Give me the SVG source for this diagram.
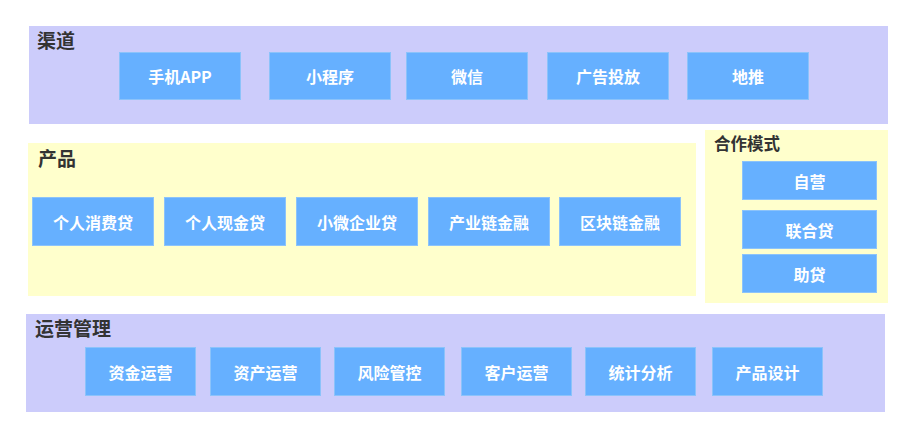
<svg xmlns="http://www.w3.org/2000/svg" width="914" height="438" viewBox="0 0 914 438">
<style>
.lav{fill:#CCCCFB}
.yel{fill:#FFFFCC}
.box{fill:#66B0FF;stroke:#8CC3FA;stroke-width:1}
.title{font-family:"Noto Sans CJK SC","Liberation Sans",sans-serif;font-size:19px;font-weight:bold;fill:#333333}
.lbl{font-family:"Noto Sans CJK SC","Liberation Sans",sans-serif;font-size:16px;font-weight:bold;fill:#FFFFFF;text-anchor:middle;dominant-baseline:central}
</style>
<rect width="914" height="438" fill="#FFFFFF"/>
<g id="channel">
<rect class="lav" x="29" y="26" width="859" height="98"/>
<text class="title" x="37" y="48">渠道</text>
</g>
<g id="n-app"><rect class="box" x="119.5" y="52.5" width="121" height="47"/><text class="lbl" x="180" y="76">手机APP</text></g>
<g id="n-mini"><rect class="box" x="269.5" y="52.5" width="121" height="47"/><text class="lbl" x="330" y="76">小程序</text></g>
<g id="n-wechat"><rect class="box" x="406.5" y="52.5" width="121" height="47"/><text class="lbl" x="467" y="76">微信</text></g>
<g id="n-ad"><rect class="box" x="547.5" y="52.5" width="121" height="47"/><text class="lbl" x="608" y="76">广告投放</text></g>
<g id="n-ground"><rect class="box" x="687.5" y="52.5" width="121" height="47"/><text class="lbl" x="748" y="76">地推</text></g>

<g id="product">
<rect class="yel" x="28" y="143" width="668" height="153"/>
<text class="title" x="38" y="166">产品</text>
</g>
<g id="n-p1"><rect class="box" x="32.5" y="197.5" width="121" height="48"/><text class="lbl" x="93" y="222">个人消费贷</text></g>
<g id="n-p2"><rect class="box" x="164.5" y="197.5" width="121" height="48"/><text class="lbl" x="225" y="222">个人现金贷</text></g>
<g id="n-p3"><rect class="box" x="296.5" y="197.5" width="121" height="48"/><text class="lbl" x="357" y="222">小微企业贷</text></g>
<g id="n-p4"><rect class="box" x="428.5" y="197.5" width="121" height="48"/><text class="lbl" x="489" y="222">产业链金融</text></g>
<g id="n-p5"><rect class="box" x="559.5" y="197.5" width="121" height="48"/><text class="lbl" x="620" y="222">区块链金融</text></g>

<g id="coop">
<rect class="yel" x="705" y="130" width="183" height="173"/>
<text class="title" x="714" y="150" style="font-size:16.5px">合作模式</text>
</g>
<g id="n-c1"><rect class="box" x="742.5" y="161.5" width="134" height="38"/><text class="lbl" x="809.5" y="181">自营</text></g>
<g id="n-c2"><rect class="box" x="742.5" y="210.5" width="134" height="38"/><text class="lbl" x="809.5" y="230">联合贷</text></g>
<g id="n-c3"><rect class="box" x="742.5" y="254.5" width="134" height="38"/><text class="lbl" x="809.5" y="274">助贷</text></g>

<g id="ops">
<rect class="lav" x="26" y="314" width="859" height="98"/>
<text class="title" x="35" y="336">运营管理</text>
</g>
<g id="n-o1"><rect class="box" x="85.5" y="347.5" width="110" height="48"/><text class="lbl" x="140.5" y="372">资金运营</text></g>
<g id="n-o2"><rect class="box" x="210.5" y="347.5" width="110" height="48"/><text class="lbl" x="265.5" y="372">资产运营</text></g>
<g id="n-o3"><rect class="box" x="334.5" y="347.5" width="110" height="48"/><text class="lbl" x="389.5" y="372">风险管控</text></g>
<g id="n-o4"><rect class="box" x="461.5" y="347.5" width="110" height="48"/><text class="lbl" x="516.5" y="372">客户运营</text></g>
<g id="n-o5"><rect class="box" x="585.5" y="347.5" width="110" height="48"/><text class="lbl" x="640.5" y="372">统计分析</text></g>
<g id="n-o6"><rect class="box" x="712.5" y="347.5" width="110" height="48"/><text class="lbl" x="767.5" y="372">产品设计</text></g>
<g id="connectors"></g>
</svg>
